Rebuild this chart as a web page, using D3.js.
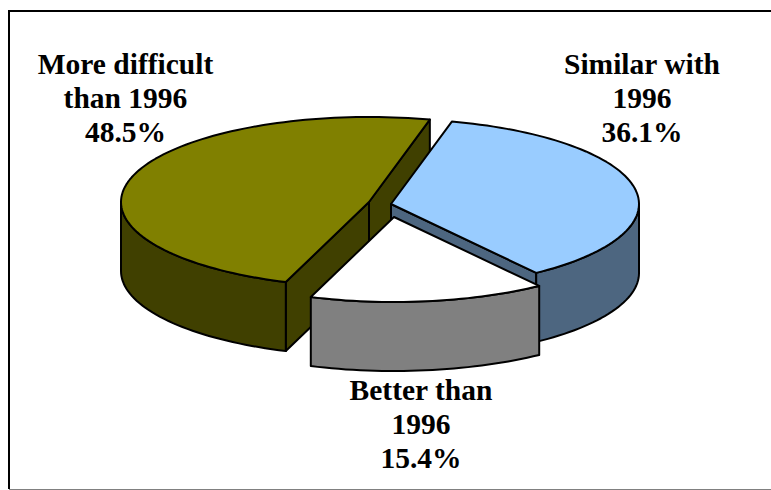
<!DOCTYPE html>
<html>
<head>
<meta charset="utf-8">
<style>
  html, body { margin: 0; padding: 0; background: #fff; }
  svg { display: block; }
  text { font-family: "Liberation Serif", "Times New Roman", serif; font-weight: bold; font-size: 29.5px; fill: #000; }
</style>
<script src="https://cdn.jsdelivr.net/npm/d3@7"></script>
</head>
<body>
<script>
// values, in drawing order round the pie
var categories = ['Similar with 1996', 'Better than 1996', 'More difficult than 1996'];
var shares = [36.1, 15.4, 48.5];
var topColors = ['#99ccff', '#ffffff', '#808000'];
var sideColors = ['#4d6680', '#808080', '#404000'];

// label lines for each slice
var labelLines = [
  ['Similar with', '1996', '36.1%'],
  ['Better than', '1996', '15.4%'],
  ['More difficult', 'than 1996', '48.5%']
];
var labelX = [642, 421, 125.5];
var labelY = [74, 400, 74];
var lineGap = 34;

// pie geometry
var width = 771;
var height = 490;
var rx = 248;
var ry = 85;
var depth = 69;
var startAngle = 14.2 * Math.PI / 180;
var centerX = [391, 394, 369];   // each slice is pulled out of the pie
var centerY = [204, 217, 202];

var svg = d3.select('body').append('svg')
  .attr('width', width)
  .attr('height', height);

// chart frame
svg.append('path')
  .attr('d', 'M' + (width + 2) + ',11H9V489')
  .attr('fill', 'none')
  .attr('stroke', '#000')
  .attr('stroke-width', 2);
svg.append('line')
  .attr('x1', 9).attr('x2', width)
  .attr('y1', 489.5).attr('y2', 489.5)
  .attr('stroke', '#808080');

var pie = d3.pie().sort(null).startAngle(startAngle).endAngle(startAngle + 2 * Math.PI);
var slices = pie(shares);

var outline = d3.line();

function rimPoint(i, a, drop) {
  return [centerX[i] + rx * Math.sin(a), centerY[i] - ry * Math.cos(a) + (drop || 0)];
}

function rim(i, a0, a1, drop) {
  var n = Math.max(2, Math.ceil(Math.abs(a1 - a0) / 0.03));
  return d3.range(n + 1).map(function(k) {
    return rimPoint(i, a0 + (a1 - a0) * k / n, drop);
  });
}

function drawFace(pts, fill) {
  svg.append('path')
    .attr('d', outline(pts) + 'Z')
    .attr('fill', fill)
    .attr('stroke', '#000')
    .attr('stroke-width', 2)
    .attr('stroke-linejoin', 'round');
}

function drawCut(i, a) {
  var c = [centerX[i], centerY[i]];
  var cDown = [centerX[i], centerY[i] + depth];
  drawFace([c, rimPoint(i, a), rimPoint(i, a, depth), cDown], sideColors[i]);
}

function drawSlice(i) {
  var s = slices[i];

  // flat cut faces, only the ones turned towards the viewer
  if (Math.sin(s.endAngle) > 0) drawCut(i, s.endAngle);
  if (Math.sin(s.startAngle) < 0) drawCut(i, s.startAngle);

  // outer wall, front half only
  var a0 = Math.max(s.startAngle, Math.PI / 2);
  var a1 = Math.min(s.endAngle, 3 * Math.PI / 2);
  if (a1 > a0) {
    drawFace(rim(i, a0, a1).concat(rim(i, a1, a0, depth)), sideColors[i]);
  }

  // top
  drawFace([[centerX[i], centerY[i]]].concat(rim(i, s.startAngle, s.endAngle)), topColors[i]);
}

// back to front
[2, 0, 1].forEach(drawSlice);

labelLines.forEach(function(lines, i) {
  svg.append('text')
    .attr('class', 'label')
    .attr('data-category', categories[i])
    .selectAll('tspan')
    .data(lines)
    .enter().append('tspan')
    .attr('x', labelX[i])
    .attr('y', function(d, k) { return labelY[i] + k * lineGap; })
    .attr('text-anchor', 'middle')
    .text(function(d) { return d; });
});
</script>
</body>
</html>
